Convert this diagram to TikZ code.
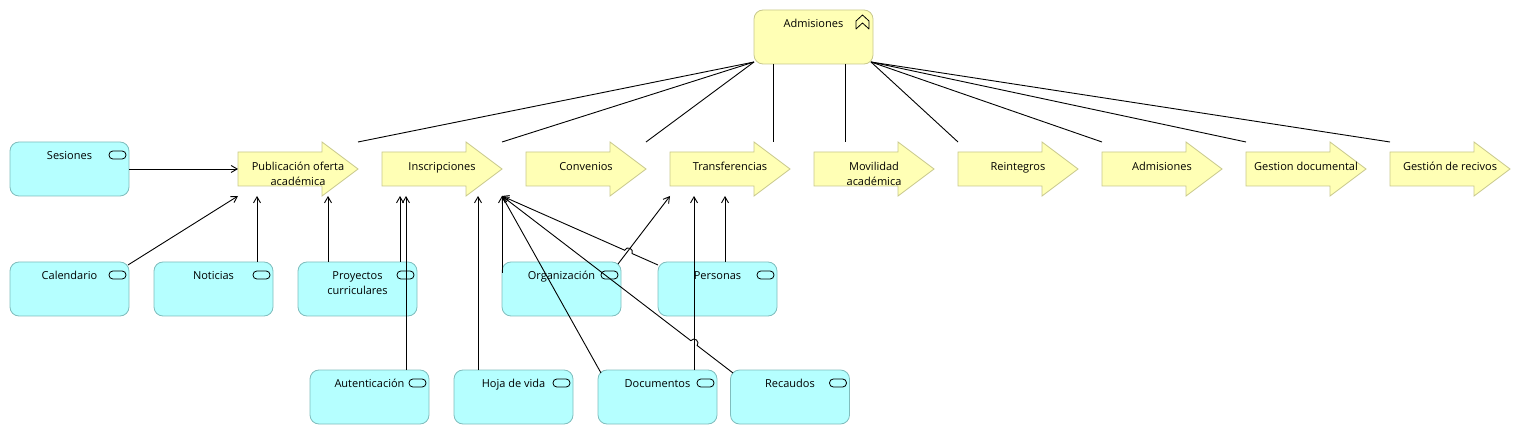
\documentclass[tikz,border=0pt]{standalone}
\usepackage{fontspec}
\setmainfont{Open Sans}
\usepackage{tikz}
\usetikzlibrary{arrows.meta, calc}
\definecolor{procfill}{HTML}{FFFFB5}
\definecolor{procdraw}{HTML}{C8C88C}
\definecolor{servfill}{HTML}{B5FFFF}
\definecolor{servdraw}{HTML}{7FBDBD}

\begin{document}
\begin{tikzpicture}[
  x=1pt, y=1pt,
  >={Straight Barb[length=6pt, width=7pt]},
  font=\fontsize{11}{15}\selectfont,
  box/.style={minimum width=119pt, minimum height=54pt, inner sep=0pt, outer sep=0pt},
  serv/.style={box, draw=servdraw, fill=servfill, line width=0.8pt, rounded corners=9pt},
  func/.style={box, draw=procdraw, fill=procfill, line width=0.8pt, rounded corners=9pt},
  proc/.style={box, minimum width=120pt},
  stxt/.style={anchor=north, align=center, inner sep=0pt, yshift=-9pt},
  ptxt/.style={anchor=north, align=center, inner sep=0pt},
  link/.style={line width=0.9pt},
  serve/.style={->, line width=0.9pt},
  ]

  % Frame
  \useasboundingbox (0, 0) rectangle (1520, -435);

  % Function on top
  \node[func, label={[stxt]north:Admisiones}] (admf) at (813.5, -37) {};
  \draw[line width=0.8pt, line join=round]
    ($(admf.north east)+(-17,-19)$) -- ++(0,8) -- ++(6.5,6) -- ++(6.5,-6)
    -- ++(0,-8) -- ++(-6.5,6) -- cycle;

  % Processes
  \node[proc] (pub) at (298, -169) {};
  \node[proc] (ins) at (442, -169) {};
  \node[proc] (conv) at (586, -169) {};
  \node[proc] (tra) at (730, -169) {};
  \node[proc] (mov) at (874, -169) {};
  \node[proc] (rei) at (1018, -169) {};
  \node[proc] (admp) at (1162, -169) {};
  \node[proc] (gdoc) at (1306, -169) {};
  \node[proc] (grec) at (1450, -169) {};
  \foreach \n in {pub, ins, conv, tra, mov, rei, admp, gdoc, grec} {
    \filldraw[fill=procfill, draw=procdraw, line width=0.8pt]
      ($(\n.north west)+(0,-10)$) -- ($(\n.north east)+(-36,-10)$)
      -- ($(\n.north east)+(-36,0)$) -- (\n.east)
      -- ($(\n.south east)+(-36,0)$) -- ($(\n.south east)+(-36,10)$)
      -- ($(\n.south west)+(0,10)$) -- cycle;
  }
  \node[ptxt] (pub-t) at ($(pub.north)+(0,-20)$) {Publicación oferta\\académica};
  \node[ptxt] (ins-t) at ($(ins.north)+(0,-20)$) {Inscripciones};
  \node[ptxt] (conv-t) at ($(conv.north)+(0,-20)$) {Convenios};
  \node[ptxt] (tra-t) at ($(tra.north)+(0,-20)$) {Transferencias};
  \node[ptxt] (mov-t) at ($(mov.north)+(0,-20)$) {Movilidad\\académica};
  \node[ptxt] (rei-t) at ($(rei.north)+(0,-20)$) {Reintegros};
  \node[ptxt] (admp-t) at ($(admp.north)+(0,-20)$) {Admisiones};
  \node[ptxt] (gdoc-t) at ($(gdoc.north)+(0,-20)$) {Gestion documental};
  \node[ptxt] (grec-t) at ($(grec.north)+(0,-20)$) {Gestión de recivos};

  % Services
  \node[serv, label={[stxt]north:Sesiones}] (ses) at (69.5, -169) {};
  \node[serv, label={[stxt]north:Calendario}] (cal) at (69.5, -289) {};
  \node[serv, label={[stxt]north:Noticias}] (noti) at (213.5, -289) {};
  \node[serv, label={[stxt]north:Proyectos\\curriculares}] (proy) at (357.5, -289) {};
  \node[serv, label={[stxt]north:Organización}] (org) at (561.5, -289) {};
  \node[serv, label={[stxt]north:Personas}] (pers) at (717.5, -289) {};
  \node[serv, label={[stxt]north:Autenticación}] (aut) at (369.5, -397) {};
  \node[serv, label={[stxt]north:Hoja de vida}] (hoja) at (513.5, -397) {};
  \node[serv, label={[stxt]north:Documentos}] (doc) at (657.5, -397) {};
  \node[serv, label={[stxt]north:Recaudos}] (rec) at (790, -397) {};
  \foreach \n in {ses, cal, noti, proy, org, pers, aut, hoja, doc, rec} {
    \draw[line width=0.8pt, rounded corners=3.8pt]
      ($(\n.north east)+(-20,-9)$) rectangle ++(17,-8);
  }

  % Links from Admisiones to the processes
  \coordinate (adL) at ($(admf.south west)+(0,2)$);
  \coordinate (adR) at ($(admf.south east)+(-2,2)$);
  \foreach \t in {pub, ins, conv} \draw[link] (adL) -- (\t.north east);
  \foreach \t in {rei, admp, gdoc, grec} \draw[link] (adR) -- (\t.north west);
  \draw[link] ($(admf.south west)+(19,0)$) coordinate (a1) -- (a1 |- tra.north);
  \draw[link] ($(admf.south west)+(91,0)$) coordinate (a2) -- (a2 |- mov.north);

  % Serving relations
  \draw[serve] (ses.east) -- (pub.west);
  \draw[serve] ($(cal.north east)+(-1,-3)$) -- (pub.south west);
  \draw[serve] ($(noti.north east)+(-16,0)$) coordinate (c1) -- (c1 |- pub.south);
  \draw[serve] ($(proy.north west)+(30,0)$) coordinate (c2) -- (c2 |- pub.south);
  \draw[serve] ($(proy.north west)+(102,0)$) coordinate (c3) -- (c3 |- ins.south);
  \draw[serve] ($(aut.north west)+(96,0)$) coordinate (c4) -- (c4 |- ins.south);
  \draw[serve] ($(hoja.north west)+(24,0)$) coordinate (c5) -- (c5 |- ins.south);
  \draw[serve] ($(org.west)+(0,16)$) -- (ins.south east);
  \draw[serve] ($(doc.north west)+(3,-3)$) -- (ins.south east);
  \draw[serve] ($(org.north east)+(-3,-2)$) -- (tra.south west);
  \draw[serve] ($(doc.north west)+(96,0)$) coordinate (c6) -- (c6 |- tra.south);
  \draw[serve] ($(pers.north west)+(67,0)$) coordinate (c7) -- (c7 |- tra.south);

  % Crossing lines with hops
  \coordinate (p1) at ($(pers.north west)+(0,-3)$);
  \coordinate (hopA) at (628.4, -251.9);
  \draw[serve] (p1) -- ($(hopA)!4pt!(p1)$)
    arc[start angle=-23.9, end angle=156.1, radius=4] -- (ins.south east);
  \coordinate (r1) at ($(rec.north west)+(2.5,-3)$);
  \coordinate (hopB) at (694, -343.1);
  \draw[serve] (r1) -- ($(hopB)!4pt!(r1)$)
    arc[start angle=-37.5, end angle=142.5, radius=4] -- (ins.south east);

\end{tikzpicture}
\end{document}
